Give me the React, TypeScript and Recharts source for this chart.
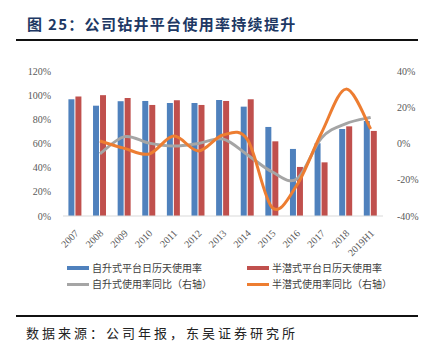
import React from 'react';
import { ComposedChart, Bar, Line, XAxis, YAxis } from 'recharts';

const categories = ['2007', '2008', '2009', '2010', '2011', '2012', '2013', '2014', '2015', '2016', '2017', '2018', '2019H1'];
const jackupUtil = [96.6, 91.3, 95.0, 95.2, 93.5, 93.5, 96.0, 90.5, 73.7, 55.5, 60.2, 72.0, 78.6];
const semiUtil = [98.9, 100.0, 97.7, 91.9, 95.8, 91.9, 95.2, 96.6, 61.8, 40.6, 44.4, 74.2, 70.4];
const jackupYoy = [null, -5.6, 3.8, 0.2, -1.4, 0.0, 2.5, -6.3, -15.7, -19.6, 3.0, 11.0, 14.4];
const semiYoy = [null, 1.4, -2.7, -5.8, 4.1, -4.1, 4.7, 2.0, -35.4, -23.0, 5.8, 30.0, 8.0];
const leftTicks = [0, 20, 40, 60, 80, 100, 120];
const rightTicks = [-40, -20, 0, 20, 40];

const legendItems = [
  { label: '自升式平台日历天使用率', color: '#4F81BD', h: 4 },
  { label: '半潜式平台日历天使用率', color: '#C0504D', h: 4 },
  { label: '自升式使用率同比（右轴）', color: '#A5A5A5', h: 3 },
  { label: '半潜式使用率同比（右轴）', color: '#ED7D31', h: 3 },
];

const data = categories.map((c, i) => ({
  name: c,
  jack: jackupUtil[i],
  semi: semiUtil[i],
  jackYoy: jackupYoy[i],
  semiYoy: semiYoy[i],
}));

// Catmull-Rom style smoothing similar to Excel's smoothed line
function smoothCurve(context: any) {
  let pts: number[][] = [];
  return {
    areaStart() {},
    areaEnd() {},
    lineStart() { pts = []; },
    point(x: number, y: number) { pts.push([+x, +y]); },
    lineEnd() {
      if (!pts.length) return;
      context.moveTo(pts[0][0], pts[0][1]);
      for (let i = 0; i < pts.length - 1; i++) {
        const p0 = pts[i - 1] || pts[i];
        const p1 = pts[i];
        const p2 = pts[i + 1];
        const p3 = pts[i + 2] || p2;
        const c1x = p1[0] + (p2[0] - p0[0]) / 6;
        const c1y = p1[1] + (p2[1] - p0[1]) / 6;
        const c2x = p2[0] - (p3[0] - p1[0]) / 6;
        const c2y = p2[1] - (p3[1] - p1[1]) / 6;
        context.bezierCurveTo(c1x, c1y, c2x, c2y, p2[0], p2[1]);
      }
    },
  };
}

const tickFont = { fontFamily: '"Liberation Serif", serif', fontSize: 10, fill: '#595959' };

const XTick = (props: any) => {
  const { x, y, payload } = props;
  return (
    <text
      x={x + 4}
      y={y + 10}
      textAnchor="end"
      transform={`rotate(-45 ${x + 4} ${y + 10})`}
      style={tickFont}
      fill="#595959"
    >
      {payload.value}
    </text>
  );
};

export default function App() {
  return (
    <div style={{ position: 'absolute', left: 0, top: 0, width: 438, height: 351, background: '#fff', fontFamily: '"Noto Sans CJK SC", sans-serif' }}>
      <div style={{ position: 'absolute', left: 27, top: 14, fontSize: 15, fontWeight: 700, color: '#203864', letterSpacing: 1.3, whiteSpace: 'nowrap', lineHeight: '20px' }}>
        图 25：公司钻井平台使用率持续提升
      </div>
      <div style={{ position: 'absolute', left: 16, top: 39, width: 402, height: 2, background: '#111' }} />
      <div style={{ position: 'absolute', left: 0, top: 0 }}>
        <ComposedChart
          width={438}
          height={351}
          data={data}
          margin={{ top: 71, right: 0, bottom: 0, left: 0 }}
          barCategoryGap="22%"
          barGap={1}
        >
          <XAxis
            dataKey="name"
            height={135}
            tickLine={false}
            axisLine={{ stroke: '#D9D9D9', strokeWidth: 1 }}
            tick={<XTick />}
            interval={0}
          />
          <YAxis
            yAxisId="left"
            width={63}
            domain={[0, 120]}
            ticks={leftTicks}
            tickFormatter={(v: number) => `${v}%`}
            axisLine={false}
            tickLine={false}
            tick={tickFont}
            tickMargin={6}
          />
          <YAxis
            yAxisId="right"
            orientation="right"
            width={55}
            domain={[-40, 40]}
            ticks={rightTicks}
            tickFormatter={(v: number) => `${v}%`}
            axisLine={false}
            tickLine={false}
            tick={{ ...tickFont, textAnchor: 'start' }}
            tickMargin={8}
          />
          <Bar yAxisId="left" dataKey="jack" fill="#4F81BD" isAnimationActive={false} />
          <Bar yAxisId="left" dataKey="semi" fill="#C0504D" isAnimationActive={false} />
          <Line yAxisId="right" dataKey="jackYoy" type={smoothCurve as any} stroke="#A5A5A5" strokeWidth={3} dot={false} isAnimationActive={false} />
          <Line yAxisId="right" dataKey="semiYoy" type={smoothCurve as any} stroke="#ED7D31" strokeWidth={3} dot={false} isAnimationActive={false} />
        </ComposedChart>
      </div>
      {legendItems.map((it, i) => {
        const col = i % 2;
        const row = Math.floor(i / 2);
        const left = col === 0 ? 67 : 247;
        const top = row === 0 ? 262 : 278;
        return (
          <div key={it.label} style={{ position: 'absolute', left, top, height: 12, display: 'flex', alignItems: 'center', whiteSpace: 'nowrap' }}>
            <div style={{ width: 22, height: it.h, background: it.color, marginRight: 3 }} />
            <span style={{ fontSize: 10, color: '#404040', lineHeight: '12px' }}>{it.label}</span>
          </div>
        );
      })}
      <div style={{ position: 'absolute', left: 16, top: 315, width: 402, height: 2, background: '#111' }} />
      <div style={{ position: 'absolute', left: 26, top: 324, fontSize: 13, color: '#222', letterSpacing: 3, whiteSpace: 'nowrap', lineHeight: '18px' }}>
        数据来源：公司年报，东吴证券研究所
      </div>
    </div>
  );
}
